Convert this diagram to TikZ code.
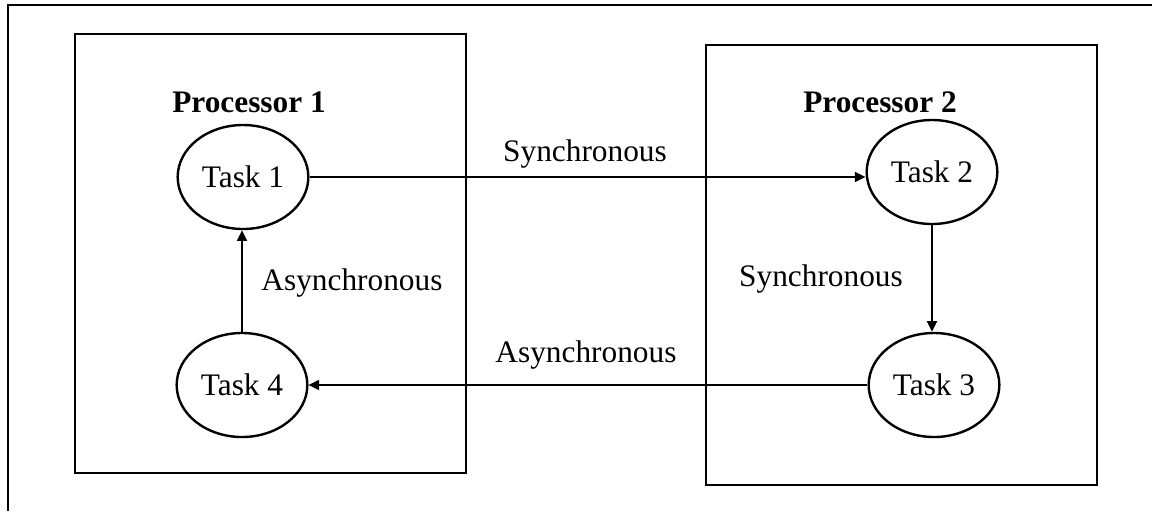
\documentclass[tikz,border=0pt]{standalone}
\usepackage{fontspec}
\setmainfont{Liberation Serif}
\usetikzlibrary{shapes.geometric,arrows.meta}
\begin{document}
\begin{tikzpicture}[x=0.75pt,y=-0.75pt,
  procbox/.style={draw,line width=2.1pt},
  task/.style={draw,ellipse,line width=1.8pt,minimum width=98pt,minimum height=78pt,inner sep=0pt,font=\fontsize{23.5}{26}\selectfont},
  lbl/.style={font=\fontsize{23.5}{26}\selectfont,inner sep=0pt},
  plbl/.style={font=\fontsize{23.5}{26}\selectfont\bfseries,inner sep=0pt},
  conn/.style={line width=1.4pt,-{Triangle[length=8pt,width=7.5pt]}}]
\useasboundingbox (0,0) rectangle (1152,511);
\coordinate (fl) at (8,511);
\coordinate (ftl) at (8,5);
\coordinate (ftr) at (1152,5);
\draw[line width=2.1pt] (fl) -- (ftl) -- (ftr);
\draw[procbox] (75,34) rectangle (466,473);
\draw[procbox] (706,45) rectangle (1097,485);
\node[plbl] (p1) at (249,102) {Processor 1};
\node[plbl] (p2) at (880,102) {Processor 2};
\node[task] (t1) at (243,177) {Task 1};
\node[task] (t2) at (932,172) {Task 2};
\node[task] (t3) at (934,385) {Task 3};
\node[task] (t4) at (242,385) {Task 4};
\draw[conn] (t1.east) -- (t2.west |- t1.east);
\draw[conn] (t2.south) -- (t2.south |- t3.north);
\draw[conn] (t3.west) -- (t4.east);
\draw[conn] (t4.north) -- (t4.north |- t1.south);
\node[lbl] (s1) at (585,154) {Synchronous};
\node[lbl] (s2) at (821,279) {Synchronous};
\node[lbl] (a1) at (352,283) {Asynchronous};
\node[lbl] (a2) at (586,355) {Asynchronous};
\end{tikzpicture}
\end{document}
